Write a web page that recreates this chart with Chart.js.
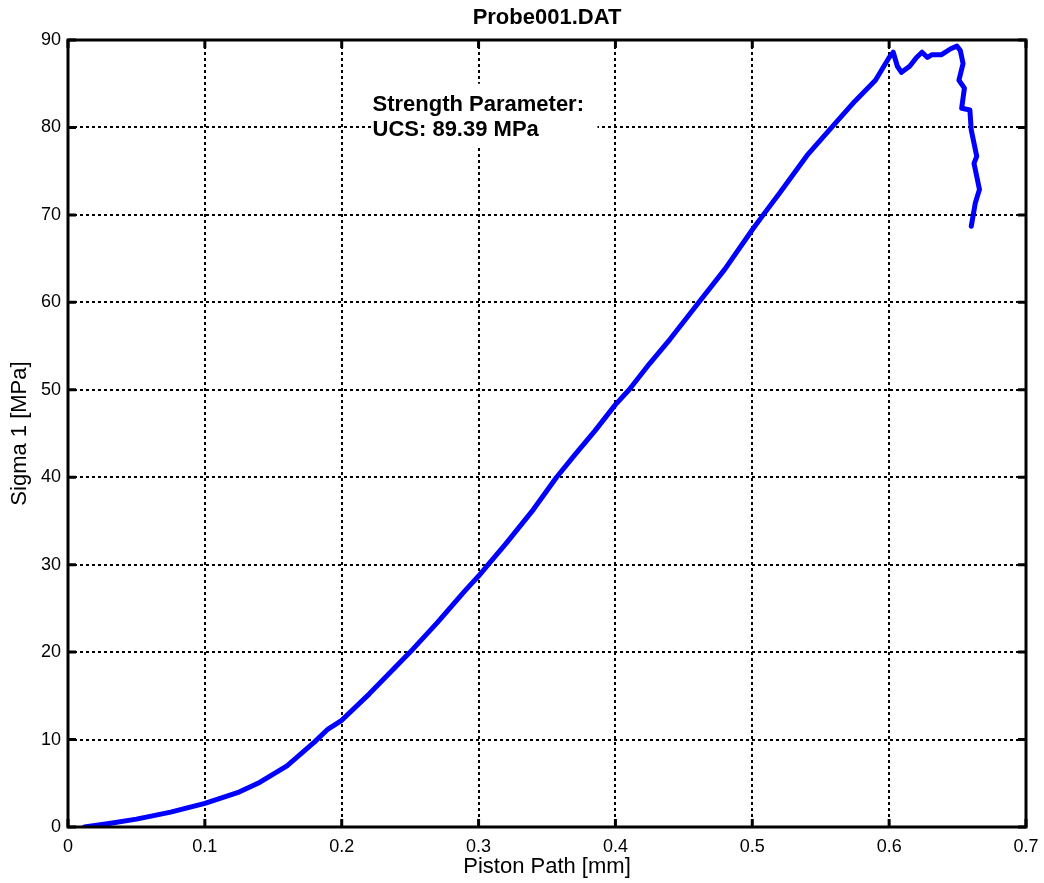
<!DOCTYPE html>
<html>
<head>
<meta charset="utf-8">
<script src="https://cdn.jsdelivr.net/npm/chart.js@4/dist/chart.umd.min.js"></script>
<style>
  html, body { margin: 0; padding: 0; background: #fff; }
  canvas { display: block; }
</style>
</head>
<body>
<canvas id="chart" width="1044" height="883"></canvas>
<script>
// piston path [mm] and sigma 1 [MPa]
const pistonPath = [
  0.012, 0.03, 0.05, 0.075, 0.10, 0.125, 0.14, 0.16, 0.18, 0.19,
  0.20, 0.22, 0.24, 0.25, 0.27, 0.29, 0.30, 0.307, 0.32, 0.34,
  0.357, 0.37, 0.385, 0.40, 0.41, 0.425, 0.44, 0.461, 0.48, 0.50,
  0.508, 0.52, 0.54, 0.558, 0.575, 0.59, 0.60, 0.603, 0.606, 0.609,
  0.615, 0.62, 0.624, 0.628, 0.631, 0.638, 0.645, 0.6495, 0.652, 0.654,
  0.651, 0.655, 0.653, 0.659, 0.660, 0.664, 0.662, 0.666, 0.663, 0.660
];
const sigma1 = [
  0.0, 0.4, 0.9, 1.7, 2.7, 4.0, 5.1, 7.0, 9.7, 11.2,
  12.2, 15.2, 18.4, 20.0, 23.4, 27.0, 28.7, 30.0, 32.4, 36.3,
  40.0, 42.5, 45.3, 48.3, 50.0, 53.0, 55.8, 60.0, 63.8, 68.3,
  70.0, 72.5, 76.8, 80.0, 83.0, 85.4, 88.0, 88.6, 87.0, 86.3,
  87.0, 88.0, 88.6, 88.0, 88.3, 88.3, 89.0, 89.3, 88.8, 87.3,
  85.4, 84.5, 82.2, 82.0, 79.7, 76.7, 75.9, 72.9, 71.4, 68.7
];
const xTicks = [0, 0.1, 0.2, 0.3, 0.4, 0.5, 0.6, 0.7];
const yTicks = [0, 10, 20, 30, 40, 50, 60, 70, 80, 90];

const titleText = 'Probe001.DAT';
const xTitle = 'Piston Path [mm]';
const yTitle = 'Sigma 1 [MPa]';
const noteLines = ['Strength Parameter:', 'UCS: 89.39 MPa'];

const FONT = '"Liberation Sans", Arial, Helvetica, sans-serif';

const points = pistonPath.map((x, i) => ({ x: x, y: sigma1[i] }));

// frame, inward ticks, titles and the annotation box
const matlabLook = {
  id: 'matlabLook',
  afterDatasetsDraw(chart) {
    const { ctx, scales: { x, y } } = chart;
    // annotation with white background
    const left = x.getPixelForValue(0.2225);
    const top = y.getPixelForValue(85.0);
    ctx.save();
    ctx.fillStyle = '#fff';
    ctx.fillRect(left - 1, top, 226, 64);
    ctx.fillStyle = '#000';
    ctx.font = 'bold 22px ' + FONT;
    ctx.textAlign = 'left';
    ctx.textBaseline = 'middle';
    ctx.fillText(noteLines[0], left, top + 21);
    ctx.fillText(noteLines[1], left, top + 46);
    ctx.restore();
  },
  afterDraw(chart) {
    const { ctx, chartArea: a, scales: { x, y } } = chart;
    ctx.save();
    ctx.strokeStyle = '#000';
    ctx.lineWidth = 3;
    ctx.beginPath();
    xTicks.forEach(v => {
      const px = x.getPixelForValue(v);
      ctx.moveTo(px, a.bottom); ctx.lineTo(px, a.bottom - 8);
      ctx.moveTo(px, a.top); ctx.lineTo(px, a.top + 8);
    });
    yTicks.forEach(v => {
      const py = y.getPixelForValue(v);
      ctx.moveTo(a.left, py); ctx.lineTo(a.left + 8, py);
      ctx.moveTo(a.right, py); ctx.lineTo(a.right - 8, py);
    });
    ctx.stroke();
    ctx.strokeRect(a.left, a.top, a.right - a.left, a.bottom - a.top);

    ctx.fillStyle = '#000';
    ctx.textAlign = 'center';
    ctx.textBaseline = 'middle';
    ctx.font = 'bold 22px ' + FONT;
    ctx.fillText(titleText, (a.left + a.right) / 2, 18);
    ctx.font = '22px ' + FONT;
    ctx.fillText(xTitle, (a.left + a.right) / 2, 867);
    ctx.translate(20, (a.top + a.bottom) / 2);
    ctx.rotate(-Math.PI / 2);
    ctx.fillText(yTitle, 0, 0);
    ctx.restore();
  }
};

const gridStyle = {
  color: ctx => (ctx.index === 0 || ctx.tick == null) ? 'rgba(0,0,0,0)' : '#000',
  lineWidth: 2,
  drawTicks: false
};

new Chart(document.getElementById('chart'), {
  type: 'scatter',
  data: {
    datasets: [{
      data: points,
      showLine: true,
      borderColor: '#0000ff',
      backgroundColor: '#0000ff',
      borderWidth: 5,
      pointRadius: 0,
      tension: 0,
      borderJoinStyle: 'round',
      borderCapStyle: 'round'
    }]
  },
  options: {
    responsive: false,
    animation: false,
    layout: { padding: { top: 40, right: 18, left: 0, bottom: 0 } },
    plugins: { legend: { display: false }, tooltip: { enabled: false } },
    scales: {
      x: {
        type: 'linear',
        min: 0,
        max: 0.7,
        afterFit: s => { s.height = 56; s.paddingRight = 0; s.paddingLeft = 0; },
        afterBuildTicks: s => { s.ticks = xTicks.map(v => ({ value: v })); },
        grid: gridStyle,
        border: { display: false, dash: [3, 3] },
        ticks: {
          padding: 9,
          color: '#000',
          font: { family: FONT, size: 18 },
          maxRotation: 0,
          callback: v => String(Number(v.toFixed(1)))
        }
      },
      y: {
        type: 'linear',
        min: 0,
        max: 90,
        afterFit: s => { s.width = 68; },
        afterBuildTicks: s => { s.ticks = yTicks.map(v => ({ value: v })); },
        grid: gridStyle,
        border: { display: false, dash: [3, 3] },
        ticks: {
          padding: 7,
          color: '#000',
          font: { family: FONT, size: 18 },
          callback: v => String(v)
        }
      }
    }
  },
  plugins: [matlabLook]
});
</script>
</body>
</html>
